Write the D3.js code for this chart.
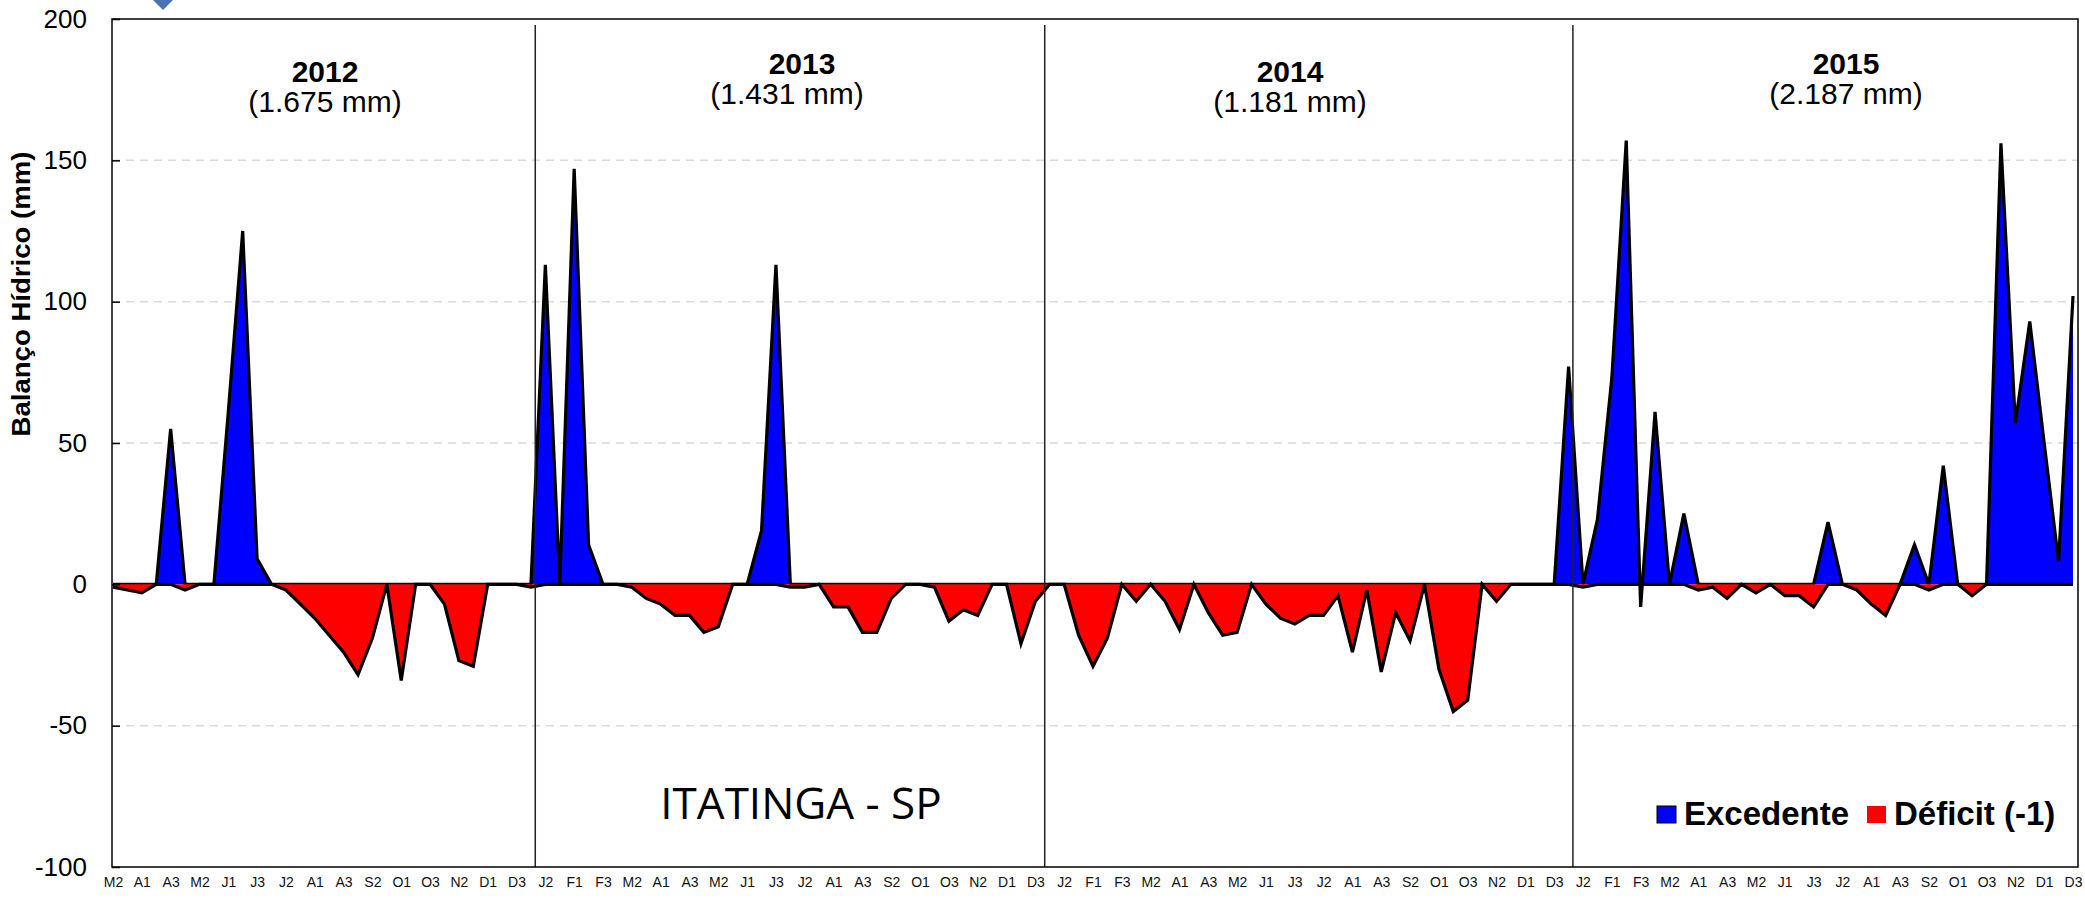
<!DOCTYPE html>
<html lang="pt-br">
<head>
<meta charset="utf-8" />
<title>Balanço Hídrico - Itatinga SP</title>
<script src="https://cdn.jsdelivr.net/npm/d3@7"></script>
<style>
  body { margin: 0; background: #fff; }
  svg { display: block; font-family: "Liberation Sans", Arial, sans-serif; }
</style>
</head>
<body>
<svg id="chart" width="2085" height="910"></svg>
<script>
// decêndios (mês + 1/2/3), série começa em M2 de 2012
const months = ["J", "F", "M", "A", "M", "J", "J", "A", "S", "O", "N", "D"];
const years = [2012, 2013, 2014, 2015];
const yearTotals = ["(1.675 mm)", "(1.431 mm)", "(1.181 mm)", "(2.187 mm)"];
const firstDekad = 7;

// Excedente (mm) por decêndio
const excedente = [
  // 2012 (M2 .. D3)
  0, 0, 0, 0, 55, 0, 0, 0, 61, 125, 9, 0, 0, 0, 0, 0, 0, 0, 0, 0, 0, 0, 0, 0, 0, 0, 0, 0, 0,
  // 2013
  0, 113, 0, 147, 14, 0, 0, 0, 0, 0, 0, 0, 0, 0, 0, 0, 19, 113, 0, 0, 0, 0, 0, 0, 0, 0, 0, 0, 0, 0, 0, 0, 0, 0, 0, 0,
  // 2014
  0, 0, 0, 0, 0, 0, 0, 0, 0, 0, 0, 0, 0, 0, 0, 0, 0, 0, 0, 0, 0, 0, 0, 0, 0, 0, 0, 0, 0, 0, 0, 0, 0, 0, 0, 0,
  // 2015
  77, 0, 23, 73, 157, -8, 61, 0, 25, 0, 0, 0, 0, 0, 0, 0, 0, 0, 22, 0, 0, 0, 0, 0, 14, 0, 42, 0, 0, 0, 156, 57, 93, 50, 8, 102
];

// Déficit (mm, x -1) por decêndio
const deficit = [
  // 2012
  -1, -2, -3, 0, 0, -2, 0, 0, 0, 0, 0, 0, -2, -7, -12, -18, -24, -32, -19, 0, -34, 0, 0, -7, -27, -29, 0, 0, 0,
  // 2013
  -1, 0, 0, 0, 0, 0, 0, -1, -5, -7, -11, -11, -17, -15, 0, 0, 0, 0, -1, -1, 0, -8, -8, -17, -17, -5, 0, 0, -1, -13, -9, -11, 0, 0, -21, -6,
  // 2014
  0, 0, -18, -29, -19, 0, -6, 0, -6, -16, 0, -10, -18, -17, 0, -7, -12, -14, -11, -11, -4, -24, -2, -31, -10, -20, 0, -30, -45, -41, 0, -6, 0, 0, 0, 0,
  // 2015
  0, -1, 0, 0, 0, 0, 0, 0, 0, -2, -1, -5, 0, -3, 0, -4, -4, -8, 0, 0, -2, -7, -11, 0, 0, -2, 0, 0, -4, 0, 0, 0, 0, 0, 0, 0
];

const yTicks = [-100, -50, 0, 50, 100, 150, 200];
const gridValues = [150, 100, 50, -50];

// nomes dos decêndios
const categories = [];
years.forEach(yr => months.forEach(m => [1, 2, 3].forEach(k => categories.push(m + k))));
const dekads = categories.slice(firstDekad, firstDekad + excedente.length);

const plot = { left: 112, right: 2078, top: 19, bottom: 867 };
const n = excedente.length;

const x = d3.scaleLinear().domain([0, n - 1]).range([113, 2073]);
const y = d3.scaleLinear().domain([-100, 200]).range([plot.bottom, plot.top]);

const svg = d3.select("#chart");

// pedaço do marcador azul cortado no topo
svg.append("polygon")
  .attr("points", "163,-20 178,-5 163,10 148,-5")
  .attr("fill", "#4a72b2");

// grade
svg.append("g").selectAll("line").data(gridValues).join("line")
  .attr("x1", plot.left).attr("x2", plot.right)
  .attr("y1", d => y(d)).attr("y2", d => y(d))
  .attr("stroke", "#d9d9d9").attr("stroke-width", 1.5)
  .attr("stroke-dasharray", "8,6");

const area = d3.area().x((d, i) => x(i)).y0(y(0)).y1(d => y(d));
const line = d3.line().x((d, i) => x(i)).y(d => y(d));

// excedente atrás, déficit na frente
svg.append("path").datum(excedente).attr("d", area).attr("fill", "#0000ff");
svg.append("path").datum(excedente).attr("d", line)
  .attr("fill", "none").attr("stroke", "#000").attr("stroke-width", 3.2)
  .attr("stroke-linejoin", "miter");
svg.append("path").datum(deficit).attr("d", area).attr("fill", "#ff0000");
svg.append("path").datum(deficit).attr("d", line)
  .attr("fill", "none").attr("stroke", "#000").attr("stroke-width", 3.2)
  .attr("stroke-linejoin", "miter");

// divisões entre anos (linhas desenhadas à mão, perto de J1)
const yearStarts = years.slice(1).map(yr => (yr - years[0]) * 36 - firstDekad);
const breakShift = [0.3, -0.35, 0.3];
svg.append("g").selectAll("line").data(yearStarts).join("line")
  .attr("x1", (d, i) => x(d + breakShift[i])).attr("x2", (d, i) => x(d + breakShift[i]))
  .attr("y1", 25).attr("y2", plot.bottom)
  .attr("stroke", "#222").attr("stroke-width", 1.5);

// moldura
svg.append("rect")
  .attr("x", plot.left).attr("y", plot.top)
  .attr("width", plot.right - plot.left).attr("height", plot.bottom - plot.top)
  .attr("fill", "none").attr("stroke", "#000").attr("stroke-width", 1.5);

// eixo y
const yAxis = svg.append("g")
  .attr("transform", `translate(${plot.left},0)`)
  .call(d3.axisLeft(y).tickValues(yTicks).tickFormat(d => String(d)).tickSize(-8).tickPadding(25));
yAxis.select(".domain").remove();
yAxis.selectAll(".tick line").attr("stroke", "#000").attr("stroke-width", 1.5);
yAxis.selectAll("text").attr("font-size", 26).attr("fill", "#000")
  .attr("font-family", "Liberation Sans, Arial, sans-serif");

// eixo x (um rótulo a cada dois decêndios)
const xTicks = d3.range(0, n, 2);
const xAxis = svg.append("g")
  .attr("transform", `translate(0,${plot.bottom})`)
  .call(d3.axisBottom(x).tickValues(xTicks).tickFormat(i => dekads[i]).tickSize(0).tickPadding(10));
xAxis.select(".domain").remove();
xAxis.selectAll("text").attr("font-size", 14).attr("fill", "#111")
  .attr("font-family", "Liberation Sans, Arial, sans-serif");

// título do eixo y
svg.append("text")
  .attr("transform", "translate(30,294) rotate(-90)")
  .attr("text-anchor", "middle")
  .attr("font-size", 25).attr("font-weight", "bold")
  .attr("textLength", 285).attr("lengthAdjust", "spacingAndGlyphs")
  .text("Balanço Hídrico (mm)");

// rótulos dos anos
const yearX = [325, 802, 1290, 1846];
const totalX = [325, 787, 1290, 1846];
const labelShift = [0, -8, 0, -8];
years.forEach((yr, k) => {
  svg.append("text")
    .attr("x", yearX[k]).attr("y", 82 + labelShift[k])
    .attr("text-anchor", "middle")
    .attr("font-size", 30).attr("font-weight", "bold")
    .text(yr);
  svg.append("text")
    .attr("x", totalX[k]).attr("y", 112 + labelShift[k])
    .attr("text-anchor", "middle")
    .attr("font-size", 30)
    .text(yearTotals[k]);
});

// local
svg.append("text")
  .attr("x", 801).attr("y", 819)
  .attr("text-anchor", "middle")
  .attr("font-family", "Open Sans, sans-serif")
  .attr("font-size", 44)
  .text("ITATINGA - SP");

// legenda
const legend = [
  { label: "Excedente", color: "#0000ff", x: 1657 },
  { label: "Déficit (-1)", color: "#ff0000", x: 1867 }
];
const lg = svg.append("g").selectAll("g").data(legend).join("g");
lg.append("rect")
  .attr("x", d => d.x).attr("y", 806).attr("width", 19).attr("height", 17)
  .attr("fill", d => d.color)
  .attr("stroke", (d, i) => i === 0 ? "#000" : "none").attr("stroke-width", 1);
lg.append("text")
  .attr("x", d => d.x + 27).attr("y", 825)
  .attr("font-size", 33).attr("font-weight", "bold")
  .text(d => d.label);
</script>
</body>
</html>
